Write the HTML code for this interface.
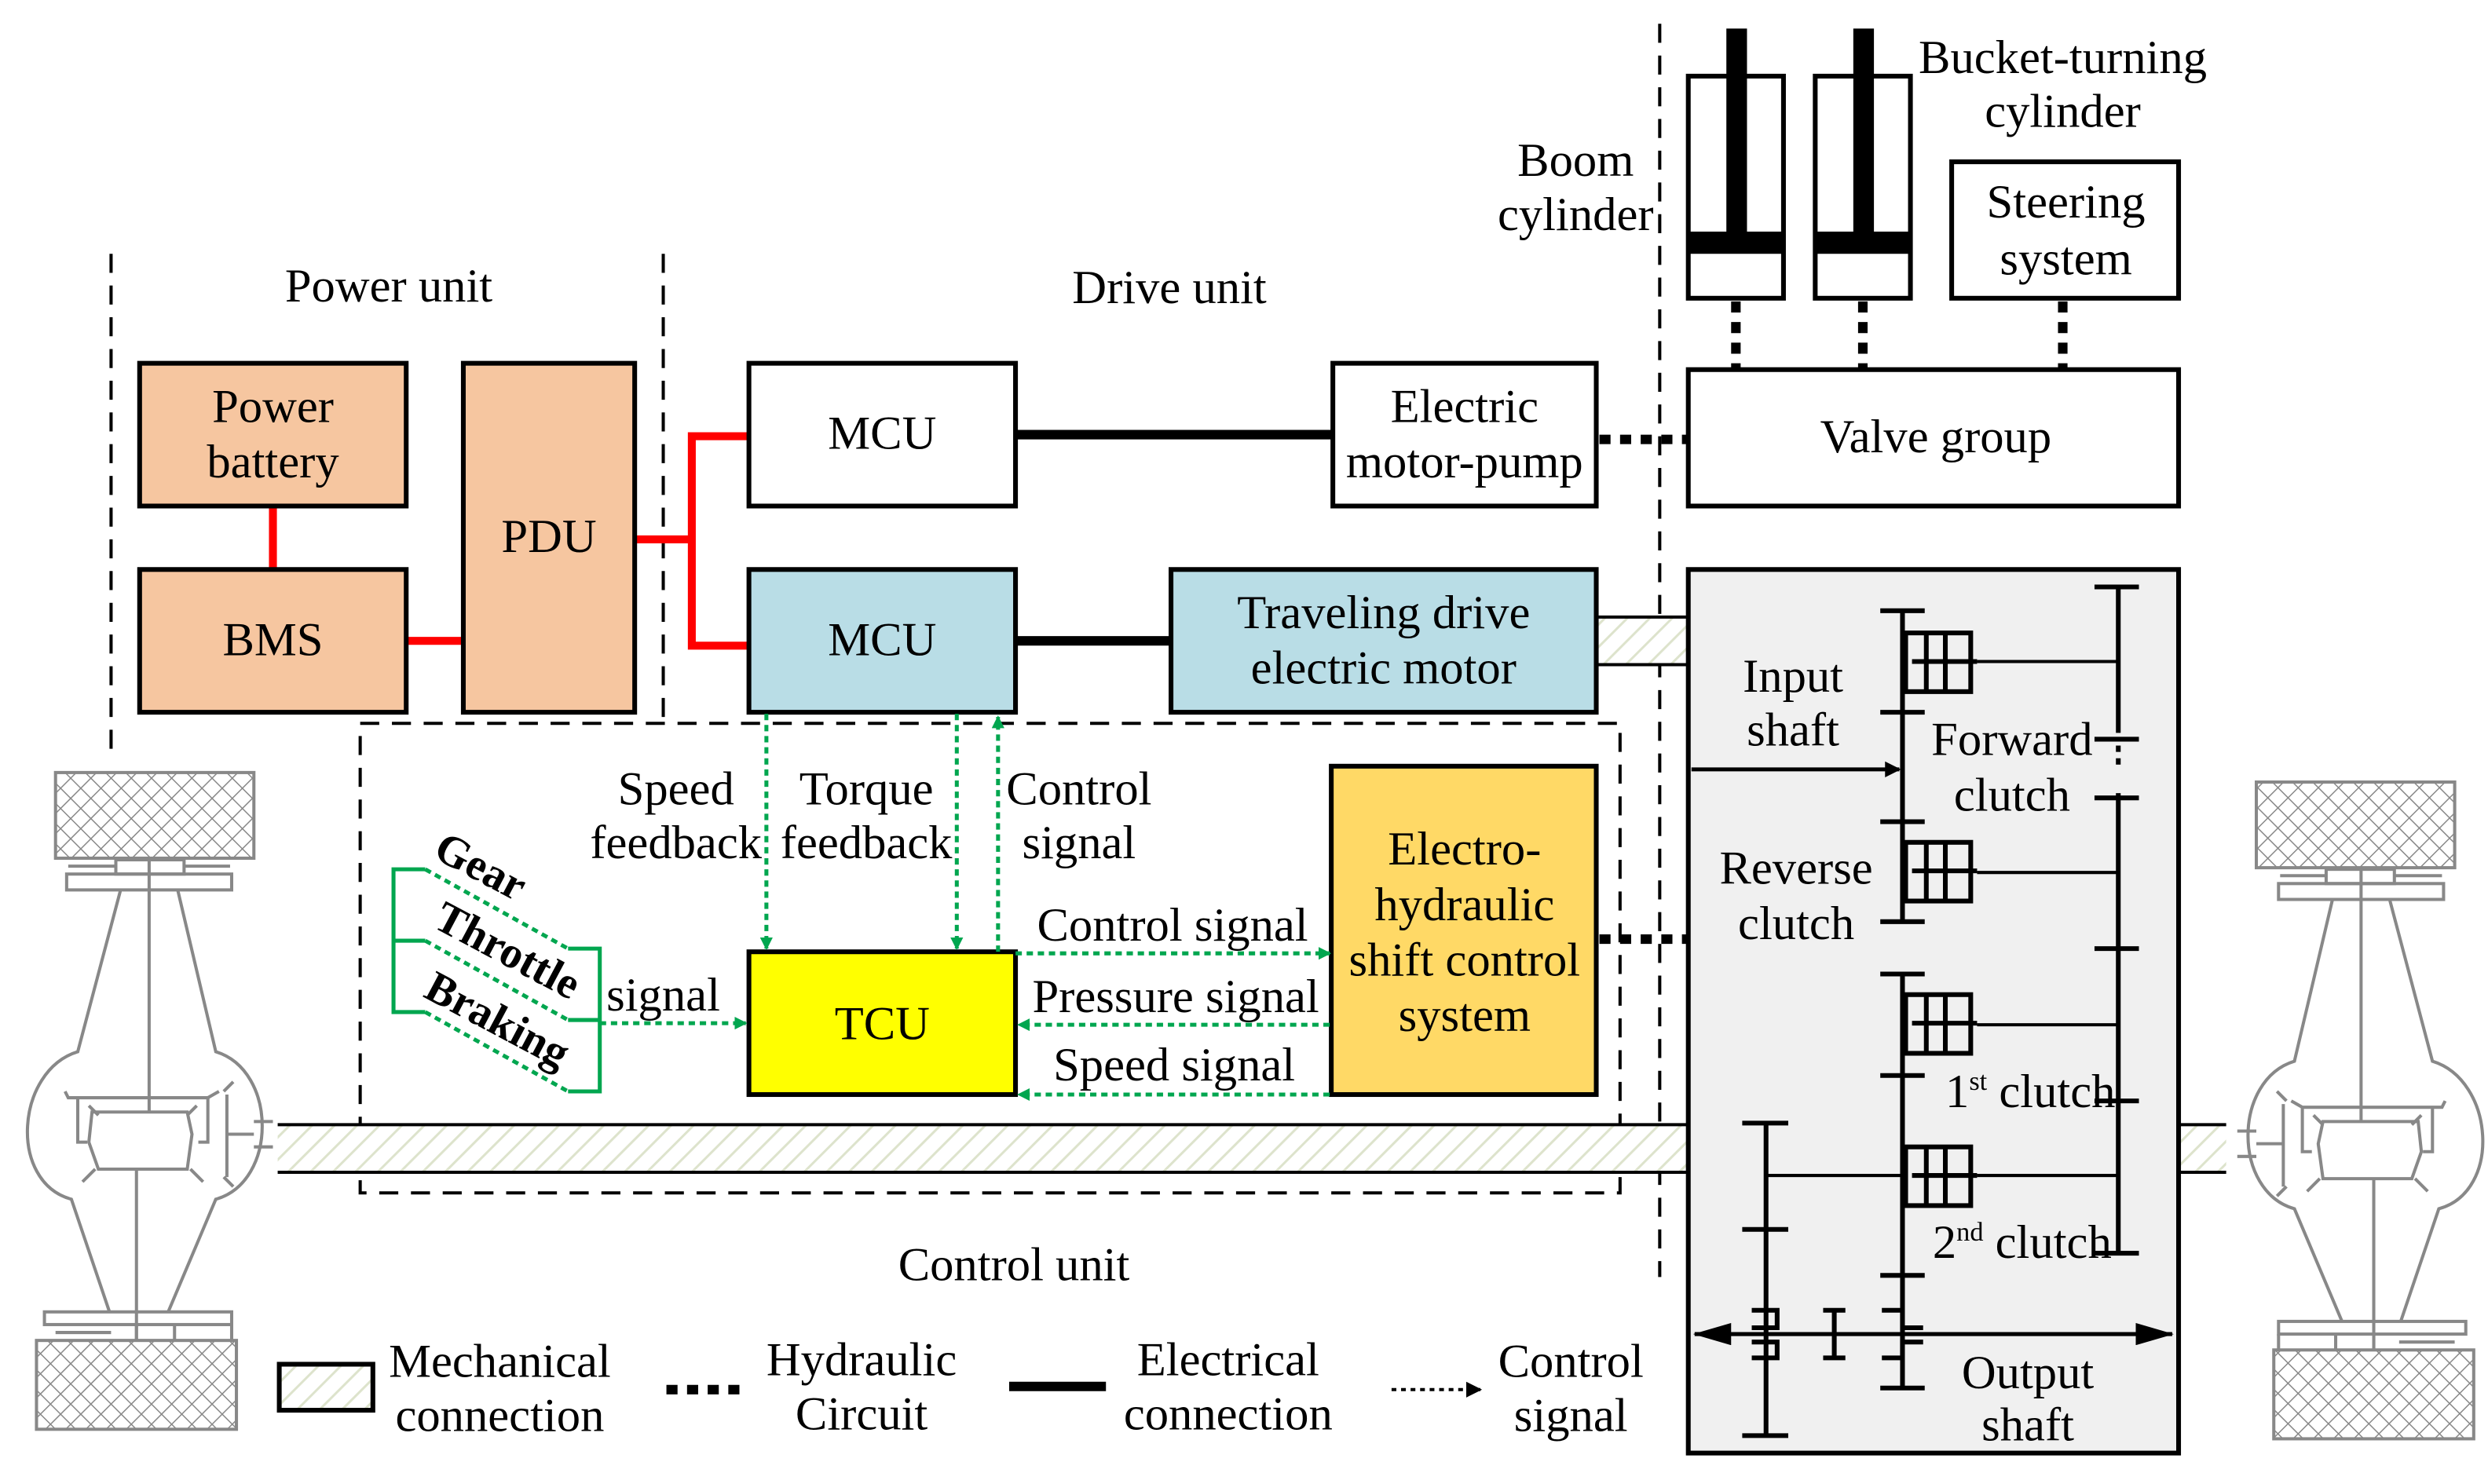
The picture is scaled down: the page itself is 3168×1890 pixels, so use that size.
<!DOCTYPE html>
<html><head><meta charset="utf-8"><style>
html,body{margin:0;padding:0;background:#fff;}
svg{display:block;}
text{font-family:"Liberation Serif",serif;font-size:30px;fill:#000;}
</style></head><body>
<svg width="3168" height="1890" viewBox="0 0 1568 935.5" preserveAspectRatio="none" xmlns="http://www.w3.org/2000/svg">
<defs>
<pattern id="hatch" width="10" height="10" patternUnits="userSpaceOnUse" patternTransform="rotate(45)">
<rect width="10" height="10" fill="#fff"/><line x1="0" y1="0" x2="0" y2="10" stroke="#dde3cc" stroke-width="3"/></pattern>
<pattern id="xh" width="9" height="9" patternUnits="userSpaceOnUse" patternTransform="rotate(45)">
<rect width="9" height="9" fill="#fff"/><line x1="0" y1="0" x2="0" y2="9" stroke="#888" stroke-width="1.5"/><line x1="0" y1="0" x2="9" y2="0" stroke="#888" stroke-width="1.5"/></pattern>
<marker id="ga" markerWidth="8" markerHeight="8" refX="7" refY="4" orient="auto" markerUnits="userSpaceOnUse"><path d="M0,0 L8,4 L0,8z" fill="#00a64f"/></marker>
<marker id="ba" markerWidth="10" markerHeight="10" refX="9" refY="5" orient="auto" markerUnits="userSpaceOnUse"><path d="M0,0 L10,5 L0,10z" fill="#000"/></marker>
<marker id="bb" markerWidth="24" markerHeight="14" refX="23" refY="7" orient="auto-start-reverse" markerUnits="userSpaceOnUse"><path d="M0,0 L24,7 L0,14z" fill="#000"/></marker>
<g id="wheel" fill="none" stroke="#888" stroke-width="2">
<rect x="35" y="487" width="125" height="54" fill="url(#xh)"/>
<rect x="73" y="542" width="43" height="9"/>
<line x1="43" y1="546" x2="73" y2="546"/><line x1="116" y1="546" x2="145" y2="546"/>
<rect x="42" y="551" width="104" height="10"/>
<line x1="94" y1="542" x2="94" y2="701"/>
<path d="M76,561 L49,663 C10,675 5,745 45,756 L69,827"/>
<path d="M112,561 L136,663 C175,675 175,745 136,756 L106,827"/>
<rect x="28" y="827" width="118" height="8"/>
<line x1="35" y1="840" x2="70" y2="840"/>
<line x1="86" y1="835" x2="86" y2="845"/><line x1="110" y1="835" x2="110" y2="845"/><line x1="146" y1="835" x2="146" y2="845"/>
<line x1="86" y1="737" x2="86" y2="845"/>
<rect x="23" y="845" width="126" height="56" fill="url(#xh)"/>
<path d="M41,688 L43,692 L131,692 L138,688"/>
<path d="M49,692 L49,720 L55,720 M131,692 L131,720 L125,720"/>
<path d="M58,701 L118,701 L121,715 L118,737 L62,737 L56,720z"/>
<path d="M52,745 L60,737 M128,745 L120,737 M56,697 L62,703 M124,697 L118,703"/>
<line x1="143" y1="690" x2="143" y2="742"/>
<line x1="143" y1="715" x2="160" y2="715"/>
<line x1="160" y1="707" x2="172" y2="707"/><line x1="160" y1="723" x2="172" y2="723"/>
<line x1="141" y1="688" x2="147" y2="682"/><line x1="141" y1="742" x2="147" y2="748"/>
</g>
</defs>

<g stroke="#000" stroke-width="2" stroke-dasharray="12,8" fill="none">
<line x1="70" y1="160" x2="70" y2="478"/>
<line x1="418" y1="160" x2="418" y2="452"/>
<line x1="1046" y1="15" x2="1046" y2="805"/>
<rect x="227" y="456" width="794" height="296"/>
</g>
<text x="245" y="190" text-anchor="middle">Power unit</text>
<text x="737" y="191" text-anchor="middle">Drive unit</text>
<text x="639" y="807" text-anchor="middle">Control unit</text>

<rect x="175" y="709" width="889" height="30" fill="url(#hatch)"/>
<line x1="175" y1="709" x2="1064" y2="709" stroke="#000" stroke-width="2"/>
<line x1="175" y1="739" x2="1064" y2="739" stroke="#000" stroke-width="2"/>
<rect x="1006" y="389" width="58" height="30" fill="url(#hatch)"/>
<line x1="1006" y1="389" x2="1064" y2="389" stroke="#000" stroke-width="2"/>
<line x1="1006" y1="419" x2="1064" y2="419" stroke="#000" stroke-width="2"/>
<rect x="1373" y="709" width="30" height="30" fill="url(#hatch)"/>
<line x1="1373" y1="709" x2="1403" y2="709" stroke="#000" stroke-width="2"/>
<line x1="1373" y1="739" x2="1403" y2="739" stroke="#000" stroke-width="2"/>

<use href="#wheel"/>
<use href="#wheel" transform="translate(1582,6) scale(-1,1)"/>

<g stroke="#f00" stroke-width="5" fill="none">
<line x1="172" y1="319" x2="172" y2="359"/>
<line x1="256" y1="404" x2="292" y2="404"/>
<line x1="400" y1="340" x2="436" y2="340"/>
<polyline points="472,275 436,275 436,407 472,407"/>
</g>
<g stroke="#000" stroke-width="6">
<line x1="640" y1="274" x2="840" y2="274"/>
<line x1="640" y1="404" x2="738" y2="404"/>
</g>

<g stroke="#000" stroke-width="3">
<rect x="88" y="229" width="168" height="90" fill="#f6c6a0"/>
<rect x="88" y="359" width="168" height="90" fill="#f6c6a0"/>
<rect x="292" y="229" width="108" height="220" fill="#f6c6a0"/>
<rect x="472" y="229" width="168" height="90" fill="#fff"/>
<rect x="472" y="359" width="168" height="90" fill="#b9dde6"/>
<rect x="840" y="229" width="166" height="90" fill="#fff"/>
<rect x="738" y="359" width="268" height="90" fill="#b9dde6"/>
<rect x="1064" y="233" width="309" height="86" fill="#fff"/>
<rect x="1230" y="102" width="143" height="86" fill="#fff"/>
<rect x="839" y="483" width="167" height="207" fill="#ffd966"/>
<rect x="472" y="600" width="168" height="90" fill="#ffff00"/>
</g>
<text x="172" y="266" text-anchor="middle">Power</text>
<text x="172" y="301" text-anchor="middle">battery</text>
<text x="172" y="413" text-anchor="middle">BMS</text>
<text x="346" y="348" text-anchor="middle">PDU</text>
<text x="556" y="283" text-anchor="middle">MCU</text>
<text x="556" y="413" text-anchor="middle">MCU</text>
<text x="923" y="266" text-anchor="middle">Electric</text>
<text x="923" y="301" text-anchor="middle">motor-pump</text>
<text x="872" y="396" text-anchor="middle">Traveling drive</text>
<text x="872" y="431" text-anchor="middle">electric motor</text>
<text x="1220" y="285" text-anchor="middle">Valve group</text>
<text x="1302" y="137" text-anchor="middle">Steering</text>
<text x="1302" y="173" text-anchor="middle">system</text>
<text x="923" y="545" text-anchor="middle">Electro-</text>
<text x="923" y="580" text-anchor="middle">hydraulic</text>
<text x="923" y="615" text-anchor="middle">shift control</text>
<text x="923" y="650" text-anchor="middle">system</text>
<text x="556" y="655" text-anchor="middle">TCU</text>

<g stroke="#000" stroke-width="3" fill="#fff">
<rect x="1064" y="48" width="60" height="140"/>
<rect x="1144" y="48" width="60" height="140"/>
</g>
<g fill="#000">
<rect x="1088" y="18" width="13" height="132"/><rect x="1064" y="146" width="60" height="14"/>
<rect x="1168" y="18" width="13" height="132"/><rect x="1144" y="146" width="60" height="14"/>
</g>
<text x="993" y="111" text-anchor="middle">Boom</text>
<text x="993" y="145" text-anchor="middle">cylinder</text>
<text x="1300" y="46" text-anchor="middle">Bucket-turning</text>
<text x="1300" y="80" text-anchor="middle">cylinder</text>

<g stroke="#000" stroke-width="6" stroke-dasharray="7,6" fill="none">
<line x1="1094" y1="190" x2="1094" y2="233"/>
<line x1="1174" y1="190" x2="1174" y2="233"/>
<line x1="1300" y1="190" x2="1300" y2="233"/>
<line x1="1008" y1="277" x2="1064" y2="277"/>
<line x1="1008" y1="592" x2="1064" y2="592"/>
</g>

<g stroke="#00a64f" stroke-width="2.5" stroke-dasharray="4,3" fill="none">
<line x1="483" y1="450" x2="483" y2="598" marker-end="url(#ga)"/>
<line x1="603" y1="450" x2="603" y2="598" marker-end="url(#ga)"/>
<line x1="629" y1="600" x2="629" y2="452" marker-end="url(#ga)"/>
<line x1="640" y1="601" x2="838" y2="601" marker-end="url(#ga)"/>
<line x1="838" y1="646" x2="642" y2="646" marker-end="url(#ga)"/>
<line x1="838" y1="690" x2="642" y2="690" marker-end="url(#ga)"/>
<line x1="378" y1="645" x2="470" y2="645" marker-end="url(#ga)"/>
<line x1="268" y1="548" x2="358" y2="598"/>
<line x1="268" y1="593" x2="358" y2="643"/>
<line x1="268" y1="638" x2="358" y2="688"/>
</g>
<g stroke="#00a64f" stroke-width="2.5" fill="none">
<polyline points="268,548 248,548 248,638 268,638"/>
<line x1="248" y1="593" x2="268" y2="593"/>
<polyline points="358,598 378,598 378,688 358,688"/>
<line x1="358" y1="643" x2="378" y2="643"/>
</g>
<text x="272" y="540" transform="rotate(28 272 540)" style="font-weight:bold;font-size:28px">Gear</text>
<text x="272" y="584" transform="rotate(28 272 584)" style="font-weight:bold;font-size:28px">Throttle</text>
<text x="266" y="628" transform="rotate(28 266 628)" style="font-weight:bold;font-size:28px">Braking</text>
<text x="426" y="507" text-anchor="middle">Speed</text>
<text x="426" y="541" text-anchor="middle">feedback</text>
<text x="546" y="507" text-anchor="middle">Torque</text>
<text x="546" y="541" text-anchor="middle">feedback</text>
<text x="680" y="507" text-anchor="middle">Control</text>
<text x="680" y="541" text-anchor="middle">signal</text>
<text x="739" y="593" text-anchor="middle">Control signal</text>
<text x="741" y="638" text-anchor="middle">Pressure signal</text>
<text x="740" y="681" text-anchor="middle">Speed signal</text>
<text x="418" y="637" text-anchor="middle">signal</text>

<rect x="1064" y="359" width="309" height="557" fill="#f0f0f0" stroke="#000" stroke-width="3"/>
<g stroke="#000" stroke-width="3" fill="none">
<line x1="1199" y1="385" x2="1199" y2="581"/>
<line x1="1185" y1="385" x2="1213" y2="385"/><line x1="1185" y1="449" x2="1213" y2="449"/>
<line x1="1185" y1="518" x2="1213" y2="518"/><line x1="1185" y1="581" x2="1213" y2="581"/>
<line x1="1199" y1="614" x2="1199" y2="875"/>
<line x1="1185" y1="614" x2="1213" y2="614"/><line x1="1185" y1="678" x2="1213" y2="678"/>
<line x1="1185" y1="804" x2="1213" y2="804"/><line x1="1185" y1="875" x2="1213" y2="875"/>
<line x1="1335" y1="370" x2="1335" y2="462"/><line x1="1335" y1="470" x2="1335" y2="474"/><line x1="1335" y1="478" x2="1335" y2="482"/>
<line x1="1335" y1="500" x2="1335" y2="790"/>
<line x1="1320" y1="370" x2="1348" y2="370"/><line x1="1320" y1="466" x2="1348" y2="466"/>
<line x1="1320" y1="503" x2="1348" y2="503"/><line x1="1320" y1="598" x2="1348" y2="598"/>
<line x1="1320" y1="694" x2="1348" y2="694"/><line x1="1320" y1="790" x2="1348" y2="790"/>
<line x1="1113" y1="708" x2="1113" y2="905"/>
<line x1="1098" y1="708" x2="1127" y2="708"/><line x1="1098" y1="775" x2="1127" y2="775"/><line x1="1098" y1="905" x2="1127" y2="905"/>
<line x1="1156" y1="826" x2="1156" y2="856"/><line x1="1149" y1="826" x2="1163" y2="826"/><line x1="1149" y1="856" x2="1163" y2="856"/>
<polyline points="1104,826 1120,826 1120,837 1104,837"/><polyline points="1104,856 1120,856 1120,846 1104,846"/>
<polyline points="1186,826 1199,826 1199,837 1212,837"/><polyline points="1186,856 1199,856 1199,846 1212,846"/>
</g>
<g stroke="#000" stroke-width="3" fill="none" id="cl">
<rect x="1201" y="399" width="41" height="37"/>
<line x1="1214" y1="399" x2="1214" y2="436"/><line x1="1226" y1="399" x2="1226" y2="436"/>
<line x1="1205" y1="417" x2="1246" y2="417"/>
</g>
<use href="#cl" transform="translate(0,132)"/>
<use href="#cl" transform="translate(0,228)"/>
<use href="#cl" transform="translate(0,324)"/>
<g stroke="#000" stroke-width="2">
<line x1="1246" y1="417" x2="1335" y2="417"/>
<line x1="1246" y1="550" x2="1335" y2="550"/>
<line x1="1246" y1="646" x2="1335" y2="646"/>
<line x1="1113" y1="741" x2="1199" y2="741"/>
<line x1="1246" y1="741" x2="1335" y2="741"/>
<line x1="1066" y1="485" x2="1197" y2="485" marker-end="url(#ba)" stroke-width="2.5"/>
<line x1="1068" y1="841" x2="1369" y2="841" marker-start="url(#bb)" marker-end="url(#bb)" stroke-width="2.5"/>
</g>
<text x="1130" y="436" text-anchor="middle">Input</text>
<text x="1130" y="470" text-anchor="middle">shaft</text>
<text x="1268" y="476" text-anchor="middle">Forward</text>
<text x="1268" y="511" text-anchor="middle">clutch</text>
<text x="1132" y="557" text-anchor="middle">Reverse</text>
<text x="1132" y="592" text-anchor="middle">clutch</text>
<text x="1226" y="698">1<tspan dy="-11" style="font-size:17px">st</tspan><tspan dy="11"> clutch</tspan></text>
<text x="1218" y="793">2<tspan dy="-11" style="font-size:17px">nd</tspan><tspan dy="11"> clutch</tspan></text>
<text x="1278" y="875" text-anchor="middle">Output</text>
<text x="1278" y="908" text-anchor="middle">shaft</text>

<rect x="176" y="860" width="59" height="29" fill="url(#hatch)" stroke="#000" stroke-width="3"/>
<text x="315" y="868" text-anchor="middle">Mechanical</text>
<text x="315" y="902" text-anchor="middle">connection</text>
<line x1="420" y1="876" x2="467" y2="876" stroke="#000" stroke-width="6" stroke-dasharray="7,6"/>
<text x="543" y="867" text-anchor="middle">Hydraulic</text>
<text x="543" y="901" text-anchor="middle">Circuit</text>
<line x1="636" y1="874" x2="697" y2="874" stroke="#000" stroke-width="6"/>
<text x="774" y="867" text-anchor="middle">Electrical</text>
<text x="774" y="901" text-anchor="middle">connection</text>
<line x1="877" y1="876" x2="933" y2="876" stroke="#000" stroke-width="2" stroke-dasharray="3,3" marker-end="url(#ba)"/>
<text x="990" y="868" text-anchor="middle">Control</text>
<text x="990" y="902" text-anchor="middle">signal</text>
</svg>
</body></html>
